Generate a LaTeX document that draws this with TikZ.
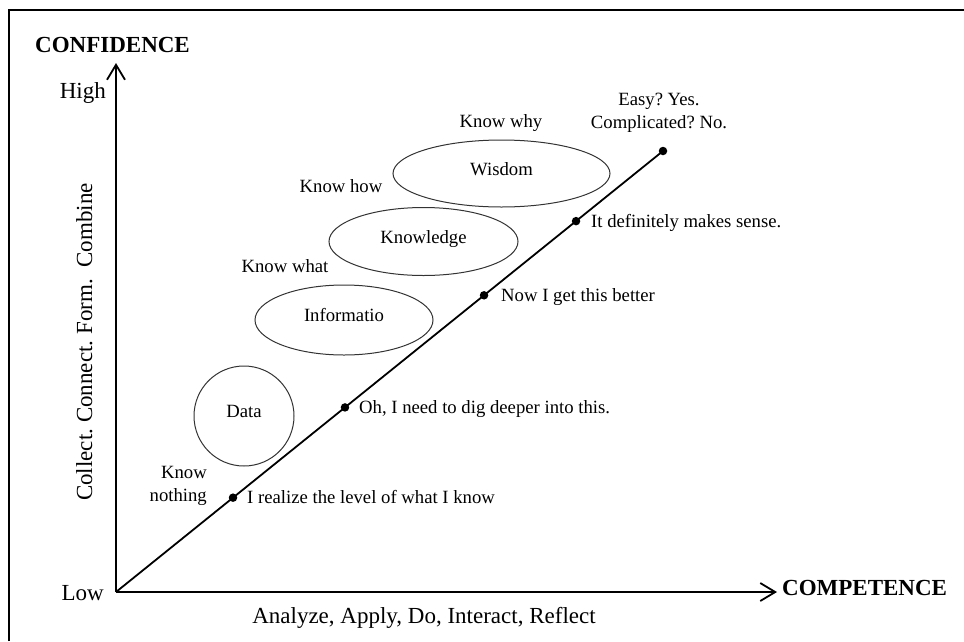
\documentclass[tikz,border=0pt]{standalone}
\usepackage{fontspec}
\setmainfont{Liberation Serif}
\usetikzlibrary{arrows.meta,shapes.geometric,calc}
\frenchspacing
\begin{document}
\begin{tikzpicture}[x=1pt,y=-1pt,
  big/.style={font=\fontsize{23}{23}\selectfont, inner sep=0pt},
  bigbold/.style={font=\fontsize{23}{23}\selectfont\bfseries, inner sep=0pt},
  small/.style={font=\fontsize{18.7}{23}\selectfont, inner sep=0pt},
  axis/.style={line width=1.8pt, -{Straight Barb[length=15pt,width=18pt]}},
  growth/.style={line width=1.8pt},
  stage/.style={draw=black!80, line width=1pt, font=\fontsize{18.7}{23}\selectfont,
    text height=12.8pt, text depth=9pt, inner sep=0pt},
  blob/.style={stage, ellipse},
  disc/.style={stage, circle},
  dotmark/.style={circle, fill=black, inner sep=0pt, minimum size=8.5pt},
  frameline/.style={line width=1.3pt}
]
\useasboundingbox (0,0) rectangle (964,641);
% outer frame (top and left edges)
\draw[frameline] (9,641) -- (9,10) -- (964,10);

% axes and the growth line
\coordinate (O) at (116,592);
\coordinate (ytip) at (116,63);
\coordinate (xtip) at (777,592);
\coordinate (top) at (663,151);
\draw[axis] (O) -- (ytip);
\draw[axis] (O) -- (xtip);
\draw[growth] (O) -- (top);

% axis labels
\node[bigbold, anchor=base west] (conf) at (35,52) {CONFIDENCE};
\node[bigbold, anchor=base west] (comp) at (782,595) {COMPETENCE};
\node[big, anchor=base east] (high) at (106,98) {High};
\node[big, anchor=base east] (low) at (104,600) {Low};
\node[big, anchor=base] (act) at (424,623) {Analyze, Apply, Do, Interact, Reflect};
\node[big, anchor=base, rotate=90] (coll) at (92,342) {Collect. Connect. Form.\hspace{6pt} Combine};

% DIKW stages
\node[disc, minimum size=100pt] (data) at (244,416) {Data};
\node[blob, minimum width=178pt, minimum height=70pt] (info) at (344,320) {Informatio};
\node[blob, minimum width=189pt, minimum height=68pt] (know) at (423.5,241.5) {Knowledge};
\node[blob, minimum width=217pt, minimum height=67pt] (wis) at (501.5,173.5) {Wisdom};

% stage captions
\node[small, anchor=base] (kwhy) at (501,127) {Know why};
\node[small, anchor=base] (khow) at (341,192) {Know how};
\node[small, anchor=base] (kwhat) at (285,272) {Know what};
\node[small, align=right, anchor=east] (knot) at (207,486) {Know\\nothing};
\node[small, align=center] (easy) at (659,113) {Easy? Yes.\\Complicated? No.};

% milestones on the growth line
\node[dotmark] (d1) at ($(O)!0.2139!(top)$) {};
\node[dotmark] (d2) at ($(O)!0.4186!(top)$) {};
\node[dotmark] (d3) at ($(O)!0.6728!(top)$) {};
\node[dotmark] (d4) at ($(O)!0.8410!(top)$) {};
\node[dotmark] (d5) at (top) {};

\node[small, anchor=base west] (s1) at ([xshift=14pt,yshift=-6pt]d1.center) {I realize the level of what I know};
\node[small, anchor=base west] (s2) at ([xshift=14pt,yshift=-6pt]d2.center) {Oh, I need to dig deeper into this.};
\node[small, anchor=base west] (s3) at ([xshift=17pt,yshift=-6pt]d3.center) {Now I get this better};
\node[small, anchor=base west] (s4) at ([xshift=15pt,yshift=-6pt]d4.center) {It definitely makes sense.};
\end{tikzpicture}
\end{document}
